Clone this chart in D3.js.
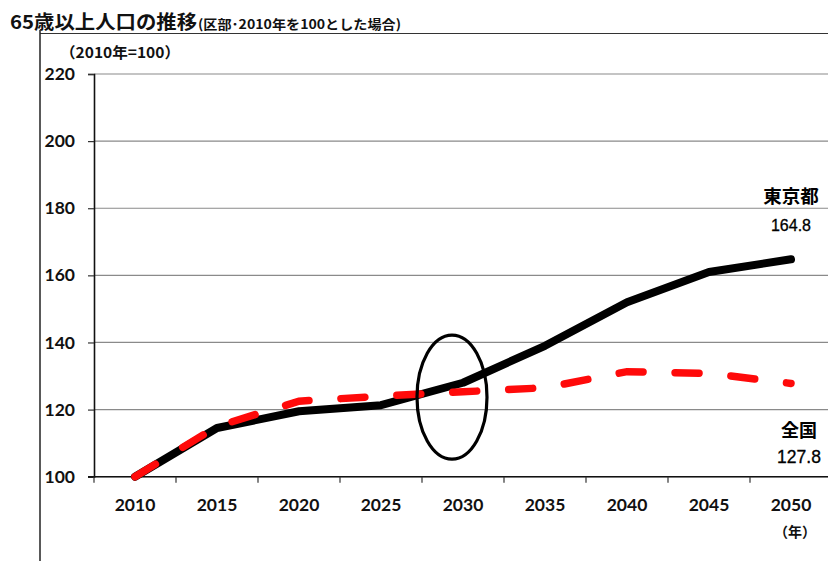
<!DOCTYPE html>
<html>
<head>
<meta charset="utf-8">
<script src="https://cdn.jsdelivr.net/npm/d3@7/dist/d3.min.js"></script>
<style>
  body { margin: 0; background: #fff; }
  svg { display: block; }
</style>
</head>
<body>
<svg id="chart" width="828" height="561"></svg>
<script>
// Elderly (65+) population index, 2010 = 100
const years = ["2010", "2015", "2020", "2025", "2030", "2035", "2040", "2045", "2050"];
const tokyoWards = [100, 114.5, 119.5, 121.3, 128, 139, 152, 161, 164.8];
const nationwide = [100, 115, 122.5, 124, 125.3, 126.5, 131.3, 130.8, 127.8];
const yTicks = [100, 120, 140, 160, 180, 200, 220];

const svg = d3.select("#chart");
const cjk = "'Noto Sans CJK JP', 'Noto Sans', sans-serif";
const num = "Lato, 'Open Sans', sans-serif";

const plot = { left: 94, right: 832, top: 74, bottom: 476.7 };

const x = d3.scalePoint().domain(years).range([plot.left, plot.right]).padding(0.5);
const step = x.step();
const y = d3.scaleLinear().domain([100, 220]).range([plot.bottom, plot.top]);

// outer frame
svg.append("line").attr("x1", 40).attr("x2", 828).attr("y1", 33.5).attr("y2", 33.5)
  .attr("stroke", "#333").attr("stroke-width", 1.2);
svg.append("line").attr("x1", 40).attr("x2", 40).attr("y1", 30).attr("y2", 561)
  .attr("stroke", "#222").attr("stroke-width", 1.5);

// title
svg.append("text").attr("x", 10).attr("y", 29)
  .attr("font-family", cjk).attr("font-weight", 700).attr("font-size", 19)
  .attr("textLength", 187).attr("lengthAdjust", "spacingAndGlyphs")
  .attr("fill", "#111").text("65歳以上人口の推移");
svg.append("text").attr("x", 198).attr("y", 29)
  .attr("font-family", cjk).attr("font-weight", 700).attr("font-size", 13)
  .attr("textLength", 203).attr("lengthAdjust", "spacingAndGlyphs")
  .attr("fill", "#111").text("(区部･2010年を100とした場合)");

// unit label
svg.append("text").attr("x", 60).attr("y", 58)
  .attr("font-family", cjk).attr("font-weight", 700).attr("font-size", 15)
  .attr("textLength", 120).attr("lengthAdjust", "spacingAndGlyphs")
  .attr("fill", "#111").text("（2010年=100）");

// gridlines
svg.append("g").selectAll("line").data(yTicks).join("line")
  .attr("x1", plot.left).attr("x2", 828)
  .attr("y1", d => y(d)).attr("y2", d => y(d))
  .attr("stroke", "#8a8a8a").attr("stroke-width", 1.2);

// y axis
const yAxis = svg.append("g").attr("transform", `translate(${plot.left},0)`)
  .call(d3.axisLeft(y).tickValues(yTicks).tickSize(6).tickPadding(13));
yAxis.select(".domain").attr("stroke", "#111").attr("stroke-width", 1.6);
yAxis.selectAll(".tick line").attr("stroke", "#333").attr("stroke-width", 1.2);
yAxis.selectAll(".tick text").attr("font-family", num).attr("font-weight", 700)
  .attr("font-size", 17.5).attr("fill", "#111");

// x axis: labels centred on categories, ticks on category boundaries
const xAxis = svg.append("g").attr("transform", `translate(0,${plot.bottom})`);
xAxis.append("line").attr("x1", plot.left - 6).attr("x2", 828).attr("y1", 0).attr("y2", 0)
  .attr("stroke", "#111").attr("stroke-width", 1.6);
xAxis.selectAll(".tk").data(years).join("line").attr("class", "tk")
  .attr("x1", d => x(d) - step / 2).attr("x2", d => x(d) - step / 2)
  .attr("y1", 0).attr("y2", 6).attr("stroke", "#333").attr("stroke-width", 1.2);
xAxis.selectAll(".lb").data(years).join("text").attr("class", "lb")
  .attr("x", d => x(d)).attr("y", 34).attr("text-anchor", "middle")
  .attr("font-family", num).attr("font-weight", 700).attr("font-size", 17.5)
  .attr("fill", "#111").text(d => d);
svg.append("text").attr("x", x("2050") - 17).attr("y", 537)
  .attr("font-family", cjk).attr("font-weight", 700).attr("font-size", 14)
  .attr("fill", "#111").text("（年）");

// series lines
const line = d3.line().x((d, i) => x(years[i])).y(d => y(d));
svg.append("path").datum(tokyoWards).attr("d", line)
  .attr("fill", "none").attr("stroke", "#000").attr("stroke-width", 8)
  .attr("stroke-linejoin", "round").attr("stroke-linecap", "round");
svg.append("path").datum(nationwide).attr("d", line)
  .attr("fill", "none").attr("stroke", "#ff0a0a").attr("stroke-width", 7.5)
  .attr("stroke-dasharray", "24,32").attr("stroke-linecap", "round");

// highlight around 2030
svg.append("ellipse")
  .attr("cx", x("2030") - 11).attr("cy", y(123.7))
  .attr("rx", 35).attr("ry", 62)
  .attr("fill", "none").attr("stroke", "#000").attr("stroke-width", 3.2);

// series end labels
const lastIdx = years.length - 1;
const endLabels = [
  { name: "東京都", value: tokyoWards[lastIdx], dx: 0, nameY: 203, valY: 231, nameSize: 18.5, valSize: 16 },
  { name: "全国", value: nationwide[lastIdx], dx: 8, nameY: 437, valY: 463, nameSize: 18, valSize: 17.5 }
];
endLabels.forEach(l => {
  svg.append("text").attr("x", x("2050") + l.dx).attr("y", l.nameY).attr("text-anchor", "middle")
    .attr("font-family", cjk).attr("font-weight", 700).attr("font-size", l.nameSize)
    .attr("fill", "#000").text(l.name);
  svg.append("text").attr("x", x("2050") + l.dx).attr("y", l.valY).attr("text-anchor", "middle")
    .attr("font-family", "'Liberation Sans', Arial, sans-serif").attr("font-size", l.valSize)
    .attr("stroke", "#000").attr("stroke-width", 0.3)
    .attr("fill", "#000").text(d3.format(".1f")(l.value));
});
</script>
</body>
</html>
